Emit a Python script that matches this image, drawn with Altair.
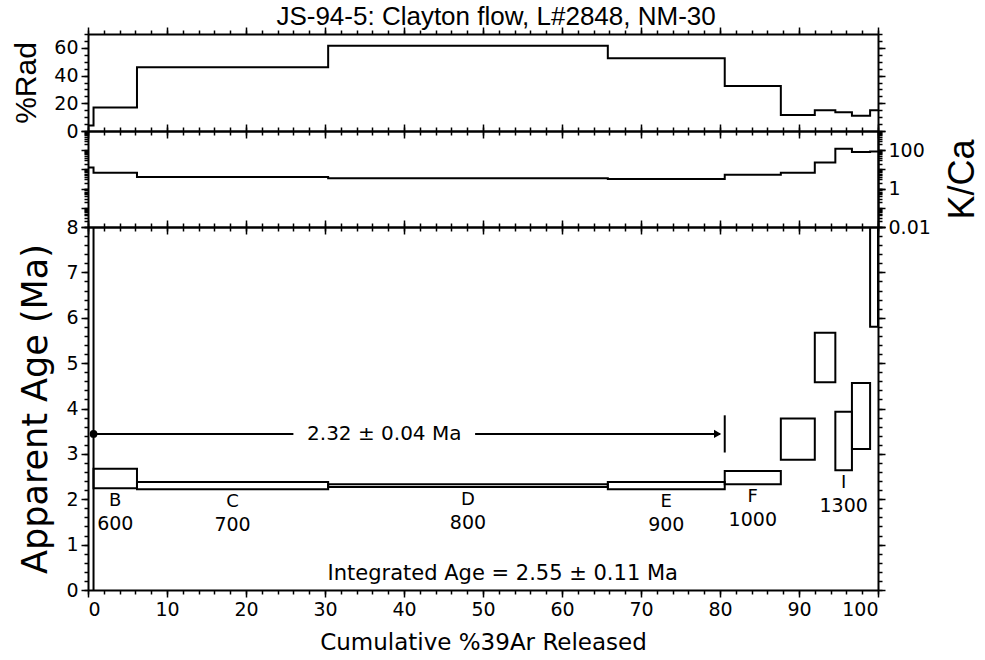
import altair as alt
import pandas as pd
import numpy as np

# ---------------- data ----------------
steps = ["A", "B", "C", "D", "E", "F", "G", "H", "I", "J", "K"]
cum_start = [0.0, 0.7, 6.2, 30.4, 65.8, 80.6, 87.7, 92.0, 94.6, 96.7, 99.0]
cum_end = [0.7, 6.2, 30.4, 65.8, 80.6, 87.7, 92.0, 94.6, 96.7, 99.0, 100.0]
pct_rad = [4, 17, 46, 61.5, 52.5, 32.5, 11.5, 15, 13.5, 11, 15]
k_ca = [12.6, 6.7, 4.0, 3.5, 3.2, 5.3, 6.7, 23, 120, 80, 85]
age_lo = [-2.0, 2.24, 2.22, 2.27, 2.22, 2.33, 2.87, 4.58, 2.64, 3.11, 5.8]
age_hi = [12.0, 2.67, 2.38, 2.33, 2.38, 2.62, 3.78, 5.67, 3.93, 4.56, 12.0]

label_steps = ["B", "C", "D", "E", "F", "I"]
label_temps = ["600", "700", "800", "900", "1000", "1300"]

title_text = "JS-94-5:  Clayton flow, L#2848, NM-30"
plateau_text = "2.32 ± 0.04 Ma"
plateau_first, plateau_last = "B", "E"
plateau_y = 3.44
plateau_text_x = 37.5
plateau_gap = 11.5
integrated_text = "Integrated Age = 2.55 ± 0.11 Ma"
integrated_pos = (52.5, 0.35)

# tick positions
x_major = list(range(0, 101, 10))
x_minor = list(range(0, 101, 2))
rad_major = [0, 20, 40, 60]
rad_minor = list(range(0, 71, 5))
age_major = list(range(0, 9))
age_minor = [i / 5 for i in range(0, 41)]
kca_major = [0.01, 0.1, 1, 10, 100, 1000]
kca_labels = [0.01, 1, 100]
kca_minor = [m * 10.0 ** d for d in range(-2, 3) for m in range(1, 10)]

FONT = "DejaVu Sans"
FONT2 = "Liberation Sans"
W = 790

# ---------------- tables ----------------
def step_table(vals):
    return pd.DataFrame({"x": cum_start + [cum_end[-1]], "v": list(vals) + [vals[-1]]})

rad_df = step_table(pct_rad)
kca_df = step_table(k_ca)
box_df = pd.DataFrame({"x0": cum_start, "x1": cum_end, "lo": age_lo, "hi": age_hi, "step": steps})
mid = {s: (a + b) / 2 for s, a, b in zip(steps, cum_start, cum_end)}
lo_of = dict(zip(steps, age_lo))
lab_df = pd.DataFrame({
    "x": [mid[s] for s in label_steps],
    "y": [lo_of[s] for s in label_steps],
    "step": label_steps,
    "temp": label_temps,
})
p0 = cum_start[steps.index(plateau_first)]
p1 = cum_end[steps.index(plateau_last)]
seg_df = pd.DataFrame({
    "a": [p0, plateau_text_x + plateau_gap],
    "b": [plateau_text_x - plateau_gap, p1 - 0.6],
    "y": [plateau_y, plateau_y],
})
pt_df = pd.DataFrame({"x": [p0], "y": [plateau_y]})
arrow_df = pd.DataFrame({"x": [p1 - 0.9], "y": [plateau_y]})
bar_df = pd.DataFrame({"x": [p1], "y": [plateau_y - 0.41], "y2": [plateau_y + 0.41]})
ptxt_df = pd.DataFrame({"x": [plateau_text_x], "y": [plateau_y], "t": [plateau_text]})
itxt_df = pd.DataFrame({"x": [integrated_pos[0]], "y": [integrated_pos[1]], "t": [integrated_text]})

# ---------------- axes ----------------
xscale = alt.Scale(domain=[0, 100], nice=False, zero=False)

base_ax = dict(grid=False, domainColor="black", domainWidth=2, tickColor="black",
               tickWidth=1.5, labelColor="black", labelFont=FONT, labelFontSize=19,
               labelOverlap=False, titleColor="black", titleFontWeight="normal", labelPadding=3)


def major_axis(orient, values, labels=False, title=None, fmt=None, **extra):
    kw = dict(base_ax)
    kw.update(orient=orient, values=values, labels=labels, tickSize=7, title=title)
    if fmt:
        kw.update(format=fmt)
    kw.update(extra)
    return alt.Axis(**kw)


def minor_axis(orient, values):
    return alt.Axis(orient=orient, values=values, labels=False, domain=False, grid=False,
                    tickSize=4, tickWidth=1.5, tickColor="black", title=None)


def carriers(df, xf, yf, ys, minor_x, minor_y, major_y_vals, right_major=None):
    """Invisible layers that only carry the extra axes of a panel."""
    mk = dict(opacity=0, clip=True)
    layers = []
    layers.append(alt.Chart(df).mark_point(**mk).encode(
        x=alt.X(xf, scale=xscale, axis=major_axis("top", x_major)),
        y=alt.Y(yf, scale=ys, axis=right_major if right_major is not None else major_axis("right", major_y_vals))))
    layers.append(alt.Chart(df).mark_point(**mk).encode(
        x=alt.X(xf, scale=xscale, axis=minor_axis("bottom", minor_x)),
        y=alt.Y(yf, scale=ys, axis=minor_axis("left", minor_y))))
    layers.append(alt.Chart(df).mark_point(**mk).encode(
        x=alt.X(xf, scale=xscale, axis=minor_axis("top", minor_x)),
        y=alt.Y(yf, scale=ys, axis=minor_axis("right", minor_y))))
    return layers


# ---------------- top panel: %Rad ----------------
rad_scale = alt.Scale(domain=[0, 70], nice=False, zero=False)
rad_line = alt.Chart(rad_df).mark_line(interpolate="step-after", color="black", strokeWidth=2).encode(
    x=alt.X("x:Q", scale=xscale, axis=major_axis("bottom", x_major)),
    y=alt.Y("v:Q", scale=rad_scale,
            axis=major_axis("left", rad_major, labels=True, title="%Rad",
                            titleFont=FONT2, titleFontSize=30, titlePadding=12)),
)
top = alt.layer(rad_line, *carriers(rad_df, "x:Q", "v:Q", rad_scale, x_minor, rad_minor, rad_major)).resolve_axis(
    x="independent", y="independent").properties(width=W, height=97)

# ---------------- middle panel: K/Ca ----------------
kca_scale = alt.Scale(type="log", domain=[0.01, 1000], nice=False)
kca_line = alt.Chart(kca_df).mark_line(interpolate="step-after", color="black", strokeWidth=2).encode(
    x=alt.X("x:Q", scale=xscale, axis=major_axis("bottom", x_major)),
    y=alt.Y("v:Q", scale=kca_scale, axis=major_axis("left", kca_major)),
)
kca_right = major_axis("right", kca_labels, labels=True, title="K/Ca", fmt="~g",
                       titleFont=FONT2, titleFontSize=36, titlePadding=15, titleAngle=270,
                       titleBaseline="top")
kca_right_major = alt.Chart(kca_df).mark_point(opacity=0, clip=True).encode(
    x=alt.X("x:Q", scale=xscale, axis=None),
    y=alt.Y("v:Q", scale=kca_scale, axis=major_axis("right", kca_major)))
middle = alt.layer(kca_line, kca_right_major,
                   *carriers(kca_df, "x:Q", "v:Q", kca_scale, x_minor, kca_minor, kca_major, right_major=kca_right)
                   ).resolve_axis(x="independent", y="independent").properties(width=W, height=96)

# ---------------- bottom panel: age spectrum ----------------
age_scale = alt.Scale(domain=[0, 8], nice=False, zero=False)
boxes = alt.Chart(box_df).mark_rect(fill=None, fillOpacity=0, stroke="black", strokeWidth=2, clip=True).encode(
    x=alt.X("x0:Q", scale=xscale,
            axis=major_axis("bottom", x_major, labels=True, title="Cumulative %39Ar Released",
                            titleFont=FONT, titleFontSize=23, titlePadding=12)),
    x2="x1:Q",
    y=alt.Y("lo:Q", scale=age_scale,
            axis=major_axis("left", age_major, labels=True, title="Apparent Age (Ma)",
                            titleFont=FONT, titleFontSize=35, titlePadding=12)),
    y2="hi:Q",
)
XN = dict(scale=xscale, axis=None)
YN = dict(scale=age_scale, axis=None)
segs = alt.Chart(seg_df).mark_rule(color="black", strokeWidth=2).encode(
    x=alt.X("a:Q", **XN), x2="b:Q", y=alt.Y("y:Q", **YN))
dot = alt.Chart(pt_df).mark_point(shape="circle", filled=True, color="black", size=60, opacity=1).encode(
    x=alt.X("x:Q", **XN), y=alt.Y("y:Q", **YN))
arrow = alt.Chart(arrow_df).mark_point(shape="triangle-right", filled=True, color="black", size=70, opacity=1).encode(
    x=alt.X("x:Q", **XN), y=alt.Y("y:Q", **YN))
endbar = alt.Chart(bar_df).mark_rule(color="black", strokeWidth=2).encode(
    x=alt.X("x:Q", **XN), y=alt.Y("y:Q", **YN), y2="y2:Q")
ptxt = alt.Chart(ptxt_df).mark_text(font=FONT, fontSize=20, color="black", baseline="middle").encode(
    x=alt.X("x:Q", **XN), y=alt.Y("y:Q", **YN), text="t:N")
itxt = alt.Chart(itxt_df).mark_text(font=FONT, fontSize=21, color="black", baseline="middle").encode(
    x=alt.X("x:Q", **XN), y=alt.Y("y:Q", **YN), text="t:N")
lab1 = alt.Chart(lab_df).mark_text(font=FONT, fontSize=18, color="black", baseline="middle", dy=13).encode(
    x=alt.X("x:Q", **XN), y=alt.Y("y:Q", **YN), text="step:N")
lab2 = alt.Chart(lab_df).mark_text(font=FONT, fontSize=19, color="black", baseline="middle", dy=36).encode(
    x=alt.X("x:Q", **XN), y=alt.Y("y:Q", **YN), text="temp:N")

bottom = alt.layer(boxes, *carriers(box_df, "x0:Q", "lo:Q", age_scale, x_minor, age_minor, age_major),
                   segs, dot, arrow, endbar, ptxt, itxt, lab1, lab2).resolve_axis(
    x="independent", y="independent").properties(width=W, height=363)

chart = alt.vconcat(top, middle, bottom, spacing=0, bounds="flush").properties(
    title=alt.TitleParams(title_text, font=FONT2, fontSize=26, fontWeight="normal", color="black",
                          anchor="middle", offset=-4),
    padding={"left": 11, "top": 3, "right": 0, "bottom": 0},
).configure_view(stroke="black", strokeWidth=2).configure(background="white")

chart.save("out.html", embed_options={"renderer": "svg", "actions": False})
